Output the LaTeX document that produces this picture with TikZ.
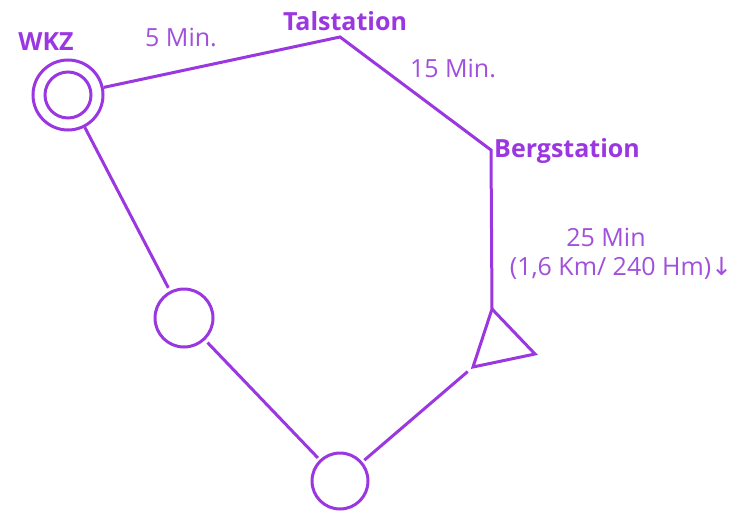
\documentclass[tikz,border=0pt]{standalone}
\usepackage{fontspec}
\setmainfont{Open Sans}
\newfontfamily\arrowfont{DejaVu Sans}
\definecolor{lila}{RGB}{155,55,225}
\definecolor{lilatext}{RGB}{160,80,220}
\begin{document}
\begin{tikzpicture}[x=1pt,y=-1pt,
  line/.style={draw=lila,line width=3pt},
  stn/.style={circle,draw=lila,line width=3pt,inner sep=0pt},
  boldlbl/.style={text=lila,font=\bfseries\fontsize{25}{30}\selectfont,inner sep=0pt},
  lbl/.style={text=lilatext,font=\fontsize{25}{30}\selectfont,inner sep=0pt,align=center}]
\useasboundingbox (0,0) rectangle (749,514);
% stations
\node[stn,minimum size=70pt] (wkz) at (68,95) {};
\node[stn,minimum size=46pt] (wkzin) at (68,95) {};
\node[stn,minimum size=58pt,outer sep=5pt] (c1) at (184,318) {};
\node[stn,minimum size=56pt,outer sep=4pt] (c2) at (340,481) {};
\coordinate (tal) at (340,37);
\coordinate (berg) at (491,150);
\coordinate (tritop) at (492,309);
\coordinate (triright) at (535,354);
\coordinate (trileft) at (473,367);
\draw[line,line join=miter] (tritop) -- (triright) -- (trileft) -- cycle;
% connectors
\draw[line] (wkz) -- (tal) -- (berg) -- (tritop);
\draw[line,shorten <=7pt] (trileft) -- (c2);
\draw[line] (wkz) -- (c1);
\draw[line] (c1) -- (c2);
% labels
\node[boldlbl] (lwkz) at (46,42) {WKZ};
\node[boldlbl] (ltal) at (345,21) {Talstation};
\node[boldlbl,anchor=west] (lberg) at (494,151) {Bergstation};
\node[lbl] (l5) at (181,38) {5 Min.};
\node[lbl] (l15) at (453,69) {15 Min.};
\node[lbl] (l25) at (606,237) {25 Min};
\node[lbl] (lkm) at (621,268) {(1,6 Km/ 240 Hm){\arrowfont ↓}};
\end{tikzpicture}
\end{document}
